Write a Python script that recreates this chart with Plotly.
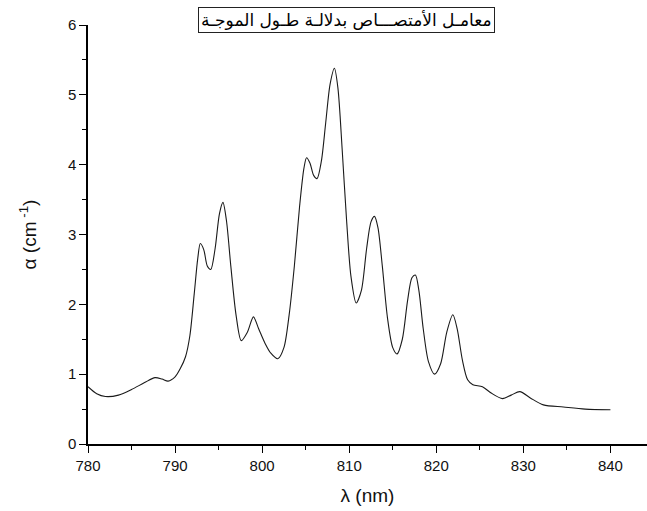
import plotly.graph_objects as go

wavelength = [780.0, 781.0, 782.0, 783.5, 785.0, 786.5, 787.7, 788.5, 789.2, 790.0,
              790.6, 791.2, 791.7, 792.2, 792.6, 792.9, 793.3, 793.7, 794.1, 794.6,
              795.1, 795.5, 795.9, 796.4, 797.0, 797.6, 798.3, 799.0, 799.6, 800.3,
              801.0, 801.8, 802.5, 803.1, 803.7, 804.3, 804.8, 805.1, 805.5, 805.9,
              806.3, 806.8, 807.3, 807.8, 808.3, 808.7, 809.2, 809.7, 810.2, 810.8,
              811.4, 812.0, 812.5, 812.9, 813.3, 813.8, 814.4, 815.0, 815.5, 816.1,
              816.7, 817.2, 817.6, 818.0, 818.5, 819.1, 819.8, 820.5, 821.2, 821.9,
              822.4, 823.0, 823.6, 824.2, 825.3, 826.3, 827.6, 828.6, 829.6, 830.8,
              832.3, 834.6, 837.1, 840.0]

alpha = [0.82, 0.72, 0.68, 0.70, 0.78, 0.88, 0.95, 0.93, 0.90, 0.96,
         1.08, 1.25, 1.55, 2.15, 2.65, 2.87, 2.78, 2.55, 2.50, 2.80,
         3.30, 3.46, 3.20, 2.55, 1.85, 1.48, 1.60, 1.82, 1.65, 1.45,
         1.30, 1.22, 1.38, 1.85, 2.55, 3.40, 3.95, 4.10, 4.02, 3.85,
         3.80, 4.05, 4.60, 5.15, 5.38, 5.10, 4.20, 3.20, 2.40, 2.02,
         2.20, 2.80, 3.18, 3.26, 3.10, 2.55, 1.80, 1.38, 1.29, 1.50,
         2.05, 2.38, 2.42, 2.20, 1.65, 1.18, 1.00, 1.15, 1.60, 1.85,
         1.65, 1.20, 0.92, 0.85, 0.82, 0.73, 0.65, 0.70, 0.75, 0.66,
         0.56, 0.53, 0.50, 0.49]

title_text = "معامـل الأمتصـــاص بدلالـة طـول الموجـة"
x_ticks = [780, 790, 800, 810, 820, 830, 840]
y_ticks = [0, 1, 2, 3, 4, 5, 6]

fig = go.Figure()
fig.add_trace(go.Scatter(
    x=wavelength, y=alpha, mode="lines",
    line=dict(color="#1a1a1a", width=1.1, shape="spline", smoothing=0.8),
    showlegend=False,
))

tickfont = dict(family="Liberation Sans, Arial, sans-serif", size=15, color="#111")
axtitlefont = dict(family="Liberation Sans, Arial, sans-serif", size=19, color="#111")

fig.update_layout(
    width=647, height=511,
    margin=dict(l=88, r=0, t=25, b=67),
    paper_bgcolor="white", plot_bgcolor="white",
    xaxis=dict(
        range=[780, 844.2], tickvals=x_ticks, ticks="outside", ticklen=7,
        tickwidth=1.3, tickcolor="black", showline=True, linecolor="black",
        linewidth=1.5, showgrid=False, zeroline=False, tickfont=tickfont,
        minor=dict(ticks="outside", ticklen=4, tickwidth=1.2, tickcolor="black", dtick=5),
        title=dict(text="λ (nm)", font=axtitlefont, standoff=16),
    ),
    yaxis=dict(
        range=[0, 6], tickvals=y_ticks, ticks="outside", ticklen=7,
        tickwidth=1.3, tickcolor="black", showline=True, linecolor="black",
        linewidth=1.5, showgrid=False, zeroline=False, tickfont=tickfont,
        minor=dict(ticks="outside", ticklen=4, tickwidth=1.2, tickcolor="black", dtick=0.5),
        title=dict(text="α (cm<sup> -1</sup>)", font=axtitlefont, standoff=26),
    ),
    annotations=[dict(
        text=title_text, xref="paper", yref="paper", yanchor="middle",
        x=(346 - 88) / (647 - 88), y=1 + (25 - 20) / (511 - 25 - 67),
        showarrow=False, font=dict(family="DejaVu Sans, Arial, sans-serif", size=17, color="black"),
        bordercolor="#222", borderwidth=1, borderpad=2, bgcolor="white",
    )],
)

fig.write_html("out.html")
